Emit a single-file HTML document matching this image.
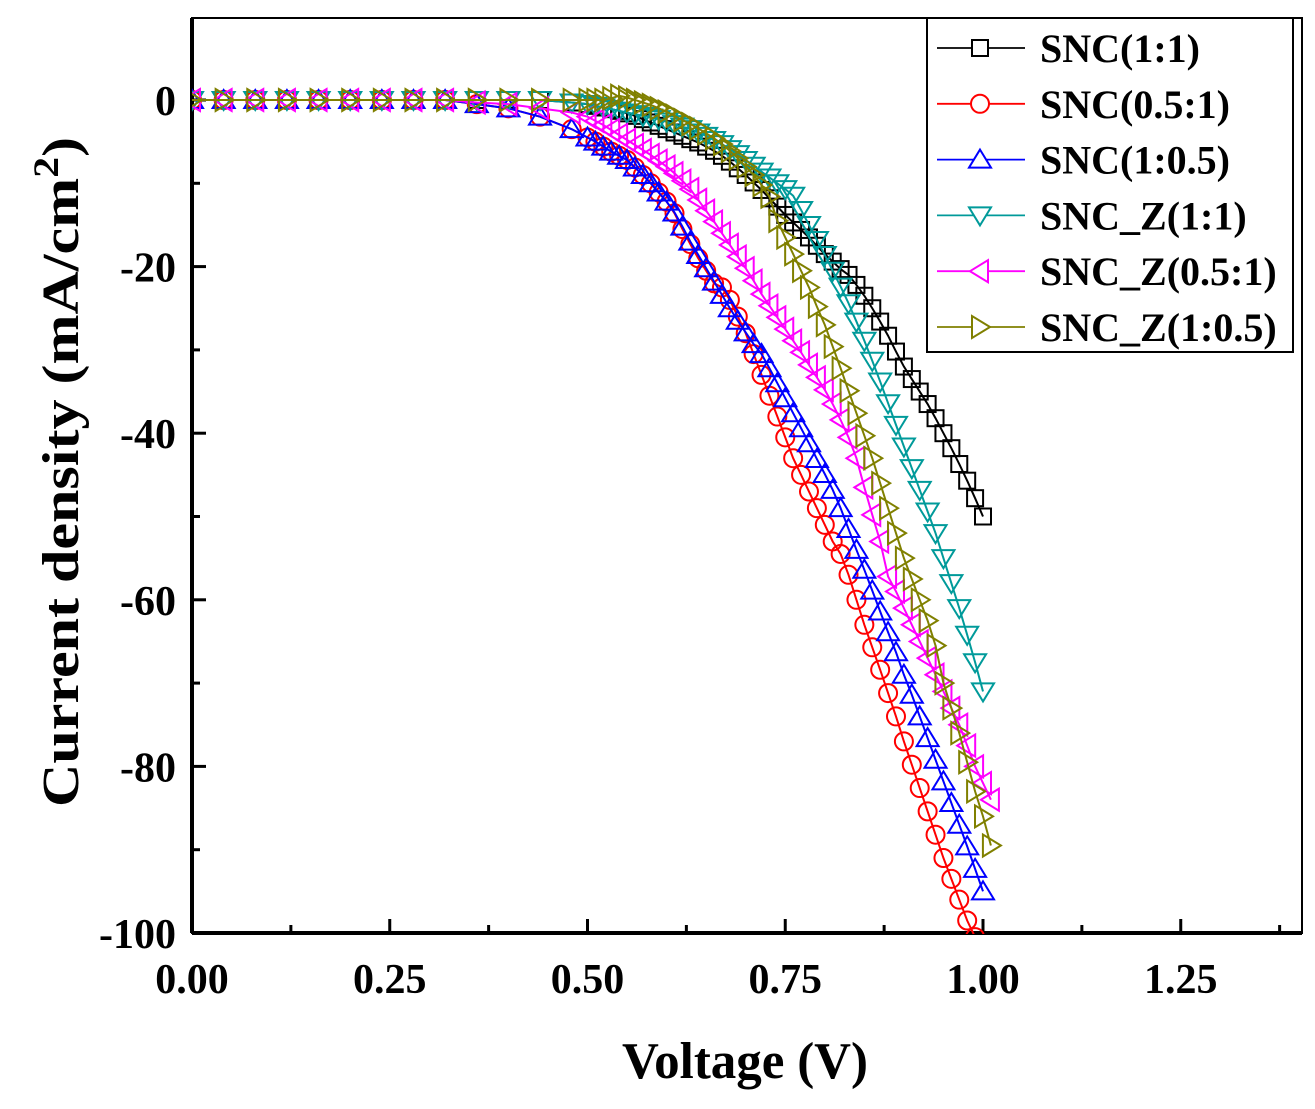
<!DOCTYPE html>
<html><head><meta charset="utf-8"><style>
html,body{margin:0;padding:0;background:#fff;}
svg text{font-family:"Liberation Serif",serif;font-weight:bold;fill:#000;}
</style></head><body>
<svg id="chart" width="1315" height="1104" viewBox="0 0 1315 1104" xmlns="http://www.w3.org/2000/svg">
<defs><clipPath id="plotclip"><rect x="192" y="18" width="1110" height="916"/></clipPath></defs>
<rect x="192" y="18" width="1110" height="915" fill="#fff" stroke="#000" stroke-width="2"/>
<g id="axes"></g>
<g id="series" clip-path="url(#plotclip)"></g>
<g id="legend"></g>
<text x="745" y="1078" font-size="52" text-anchor="middle" textLength="246" lengthAdjust="spacingAndGlyphs">Voltage (V)</text>
<text transform="translate(78,472) rotate(-90)" font-size="52" text-anchor="middle" textLength="670" lengthAdjust="spacingAndGlyphs">Current density (mA/cm<tspan font-size="36" dy="-20">2</tspan><tspan dy="20">)</tspan></text>
</svg>
<script>
const volts = [0,0.04,0.08,0.12,0.16,0.20,0.24,0.28,0.32,0.36,0.40,0.44,0.48,
0.50,0.51,0.52,0.53,0.54,0.55,0.56,0.57,0.58,0.59,0.60,0.61,0.62,0.63,0.64,0.65,0.66,0.67,0.68,0.69,0.70,0.71,0.72,0.73,0.74,0.75,0.76,0.77,0.78,0.79,0.80,0.81,0.82,0.83,0.84,0.85,0.86,0.87,0.88,0.89,0.90,0.91,0.92,0.93,0.94,0.95,0.96,0.97,0.98,0.99,1.00,1.01];
const snc11 = [0,0,0,0,0,0,0,0,0,0,0,0,-0.3,
-0.5,-0.7,-0.9,-1.1,-1.3,-1.6,-1.9,-2.3,-2.7,-3.1,-3.5,-3.9,-4.3,-4.7,-5.1,-5.6,-6.1,-6.7,-7.4,-8.2,-9.0,-9.9,-10.8,-11.8,-12.8,-13.8,-14.7,-15.6,-16.5,-17.5,-18.5,-19.4,-20.3,-21.0,-22.2,-23.5,-25.0,-26.6,-28.3,-30.2,-32.0,-33.5,-35,-36.5,-38.2,-40,-41.8,-43.7,-45.7,-47.8,-50,null];
const snc051 = [0,0,0,0,0,0,0,0,0,-0.5,-1,-2,-3.5,
-4.5,-5,-5.6,-6.2,-6.7,-7.2,-8.1,-9,-10,-11.1,-12.2,-13.6,-15.5,-17.3,-19,-20.5,-22,-22.5,-24,-26,-28,-30.5,-33,-35.5,-38,-40.5,-43,-45,-47,-49,-51,-53,-54.5,-57,-60,-63,-65.7,-68.4,-71.2,-74,-77,-79.8,-82.6,-85.4,-88.2,-91,-93.5,-96,-98.5,-100.5,null,null];
const snc105 = [0,0,0,0,0,0,0,0,0,-0.5,-1,-2,-3.5,
-4.5,-5,-5.6,-6.2,-6.7,-7.2,-8.1,-9,-10,-11.1,-12.2,-13.5,-15.2,-17,-18.6,-20.2,-21.8,-23.4,-25,-26.5,-27.9,-29.3,-30.5,-32.2,-34,-35.8,-37.6,-39.4,-41.2,-43.1,-44.9,-46.8,-49,-51.5,-54,-56.4,-58.9,-61.4,-63.9,-66.3,-69,-71.4,-74,-76.6,-79.2,-81.8,-84.4,-87,-89.6,-92.3,-95,null];
const sncz11 = [0,0,0,0,0,0,0,0,0,0,0,0,-0.3,
-0.5,-0.7,-0.9,-1.1,-1.3,-1.5,-1.7,-1.9,-2.1,-2.3,-2.6,-2.9,-3.2,-3.5,-3.9,-4.3,-4.8,-5.3,-5.9,-6.5,-7.2,-7.9,-8.6,-9.3,-10.0,-10.7,-11.5,-13.2,-15,-16.8,-18.6,-20.5,-22.4,-24.4,-26.6,-28.9,-31.3,-33.8,-36.4,-39.0,-41.6,-44.2,-46.8,-49.4,-52,-55,-58,-61,-64.2,-67.5,-71,null];
const sncz051 = [0,0,0,0,0,0,0,0,0,-0.3,-0.5,-1,-1.5,
-2,-2.5,-3,-3.6,-4.2,-4.8,-5.4,-6,-6.6,-7.3,-8,-8.8,-9.7,-10.7,-12,-13.3,-14.6,-16,-17.4,-18.8,-20.2,-21.7,-23.3,-24.7,-26.1,-27.5,-28.9,-30.3,-31.8,-33.3,-34.8,-36.5,-38.4,-40.5,-43,-46.5,-49.8,-53,-57.2,-59,-61,-63,-65,-67,-69,-71,-73,-75,-77.5,-80,-82,-84];
const sncz105 = [0,0,0,0,0,0,0,0,0,0,0,0,0,
0,0,0,0.2,0.5,0.3,0,-0.3,-0.6,-1.0,-1.4,-1.9,-2.4,-2.9,-3.4,-4.0,-4.6,-5.3,-6.1,-7.0,-8.0,-9.0,-10.2,-11.6,-14.5,-16.5,-18.5,-20.5,-22.5,-24.8,-27,-29.6,-32.2,-34.9,-37.6,-40.3,-43,-46,-49,-52,-55,-57.5,-60,-62.5,-65.5,-70,-73,-76,-79.5,-83,-86,-89.5];
const seriesNames = ["SNC(1:1)","SNC(0.5:1)","SNC(1:0.5)","SNC_Z(1:1)","SNC_Z(0.5:1)","SNC_Z(1:0.5)"];
const xTicks = [0,0.25,0.5,0.75,1.0,1.25];
const xTickLabels = ["0.00","0.25","0.50","0.75","1.00","1.25"];
const yTicks = [0,-20,-40,-60,-80,-100];
const yTickLabels = ["0","-20","-40","-60","-80","-100"];

const allSeries=[snc11,snc051,snc105,sncz11,sncz051,sncz105];
const colors=["#000000","#ff0000","#0000ff","#009a9a","#ff00ff","#808000"];
const shapes=["square","circle","up","down","left","right"];
const X=v=>192+791*v;
const Y=j=>100-8.33*j;
const NS="http://www.w3.org/2000/svg";
function mk(tag,attrs,parent){const e=document.createElementNS(NS,tag);for(const k in attrs)e.setAttribute(k,attrs[k]);parent.appendChild(e);return e;}
function marker(shape,x,y,c,parent){
  let e;
  if(shape==="square") e=mk("rect",{x:x-8,y:y-8,width:16,height:16},parent);
  else if(shape==="circle") e=mk("circle",{cx:x,cy:y,r:9},parent);
  else { let p;
    if(shape==="up") p=[[x,y-10],[x+11,y+8],[x-11,y+8]];
    else if(shape==="down") p=[[x,y+10],[x+11,y-8],[x-11,y-8]];
    else if(shape==="left") p=[[x-10,y],[x+8,y-11],[x+8,y+11]];
    else p=[[x+10,y],[x-8,y-11],[x-8,y+11]];
    e=mk("polygon",{points:p.map(q=>q.join(",")).join(" ")},parent);}
  e.setAttribute("fill","none");e.setAttribute("stroke",c);e.setAttribute("stroke-width","2");
  return e;
}
const axes=document.getElementById("axes");
mk("line",{x1:192,y1:933,x2:1302,y2:933,stroke:"#000","stroke-width":4},axes);
mk("line",{x1:192,y1:18,x2:192,y2:933,stroke:"#000","stroke-width":4},axes);
for(let v=0;v<=1.375;v+=0.125){const maj=Math.abs(v/0.25-Math.round(v/0.25))<1e-6;
  const t=mk("line",{x1:X(v),y1:933,x2:X(v),y2:933-(maj?14:8),stroke:"#000","stroke-width":3},axes);
  
  }
xTicks.forEach((v,i)=>{const t=mk("text",{x:X(v),y:993,"font-size":42,"text-anchor":"middle"},axes);t.textContent=xTickLabels[i];
  
  });
for(let j=0;j>=-100;j-=10){const maj=j%20===0;
  const t=mk("line",{x1:192,y1:Y(j),x2:192+(maj?14:8),y2:Y(j),stroke:"#000","stroke-width":3},axes);
  
  }
yTicks.forEach((j,i)=>{const t=mk("text",{x:176,y:Y(j)+15,"font-size":42,"text-anchor":"end"},axes);t.textContent=yTickLabels[i];
  
  });
const sg=document.getElementById("series");
allSeries.forEach((arr,si)=>{
  const g=mk("g",{},sg);
  
  
  const pts=[];
  arr.forEach((j,i)=>{if(j!==null)pts.push([X(volts[i]),Y(j)]);});
  const pl=mk("polyline",{points:pts.map(p=>p.join(",")).join(" "),fill:"none",stroke:colors[si],"stroke-width":2},g);
  
  
  pts.forEach(p=>{const m=marker(shapes[si],p[0],p[1],colors[si],g);
    
    });
});
const lg=document.getElementById("legend");


mk("rect",{x:927,y:18,width:366,height:334,fill:"#fff",stroke:"#000","stroke-width":2},lg);
seriesNames.forEach((n,i)=>{const y=48+i*55.8;
  const g=mk("g",{},lg);
  
  
  mk("line",{x1:937,y1:y,x2:1025,y2:y,stroke:colors[i],"stroke-width":1.8},g);
  const m=marker(shapes[i],980,y,colors[i],g);m.setAttribute("fill","#fff");
  const t=mk("text",{x:1040,y:y+14,"font-size":40},g);t.textContent=n;});
</script>
</body></html>
